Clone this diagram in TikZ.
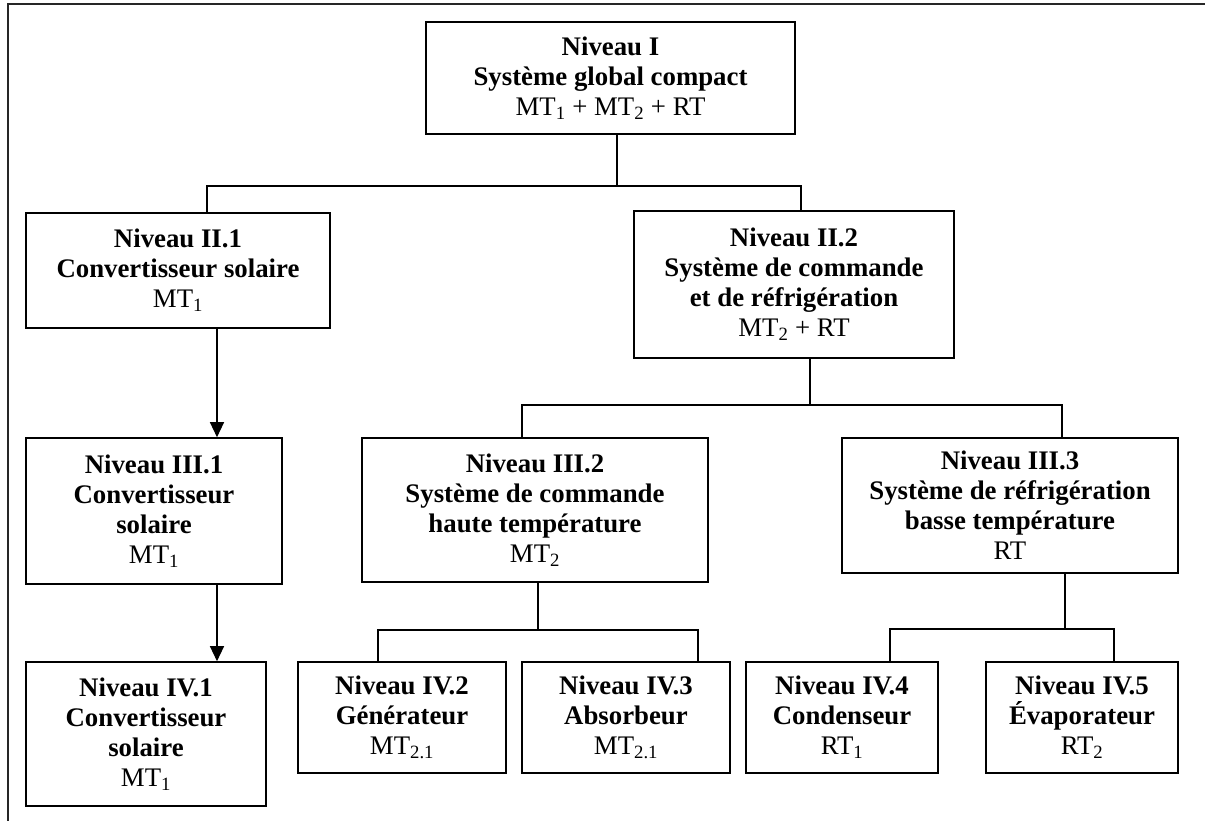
\documentclass[tikz,border=0pt]{standalone}
\usepackage{fontspec}
\setmainfont{Liberation Serif}
\usetikzlibrary{arrows.meta}
\newcommand{\sbx}[1]{\textsubscript{#1}}
\begin{document}
\begin{tikzpicture}[x=1pt,y=-1pt,
  box/.style={draw, line width=1.6pt, inner sep=0pt, align=center,
    font=\fontsize{26.8}{30}\selectfont},
  conn/.style={line width=1.3pt},
  arr/.style={conn, -{Triangle[width=14pt,length=15pt]}},
  frame/.style={line width=1.8pt, black!85}]
\useasboundingbox (0,0) rectangle (1205,821);
% outer frame (only top and left edges visible)
\coordinate (fTL) at (8,4.3);
\coordinate (fTR) at (1205,4.3);
\coordinate (fBL) at (8,821);
\draw[frame] (fTR) -- (fTL) -- (fBL);

% level I
\node[box, minimum width=369pt, minimum height=112pt] (I) at (610.5,78)
  {\textbf{Niveau I}\\\textbf{Système global compact}\\MT\sbx{1} + MT\sbx{2} + RT};
% level II
\node[box, minimum width=304pt, minimum height=115pt] (II1) at (178,270.5)
  {\textbf{Niveau II.1}\\\textbf{Convertisseur solaire}\\MT\sbx{1}};
\node[box, minimum width=320pt, minimum height=147pt] (II2) at (794,284.5)
  {\textbf{Niveau II.2}\\\textbf{Système de commande}\\\textbf{et de réfrigération}\\MT\sbx{2} + RT};
% level III
\node[box, minimum width=256pt, minimum height=146pt] (III1) at (154,511)
  {\textbf{Niveau III.1}\\\textbf{Convertisseur}\\\textbf{solaire}\\MT\sbx{1}};
\node[box, minimum width=346pt, minimum height=144pt] (III2) at (535,510)
  {\textbf{Niveau III.2}\\\textbf{Système de commande}\\\textbf{haute température}\\MT\sbx{2}};
\node[box, minimum width=336pt, minimum height=135pt] (III3) at (1010,505.5)
  {\textbf{Niveau III.3}\\\textbf{Système de réfrigération}\\\textbf{basse température}\\RT};
% level IV
\node[box, minimum width=240pt, minimum height=144pt] (IV1) at (146,734)
  {\textbf{Niveau IV.1}\\\textbf{Convertisseur}\\\textbf{solaire}\\MT\sbx{1}};
\node[box, minimum width=208pt, minimum height=111pt] (IV2) at (402,717.5)
  {\textbf{Niveau IV.2}\\\textbf{Générateur}\\MT\sbx{2.1}};
\node[box, minimum width=208pt, minimum height=111pt] (IV3) at (626,717.5)
  {\textbf{Niveau IV.3}\\\textbf{Absorbeur}\\MT\sbx{2.1}};
\node[box, minimum width=192pt, minimum height=111pt] (IV4) at (842,717.5)
  {\textbf{Niveau IV.4}\\\textbf{Condenseur}\\RT\sbx{1}};
\node[box, minimum width=192pt, minimum height=111pt] (IV5) at (1082,717.5)
  {\textbf{Niveau IV.5}\\\textbf{Évaporateur}\\RT\sbx{2}};

% junction coordinates
\coordinate (j1) at (617,186);
\coordinate (h1L) at (207,186);
\coordinate (h1R) at (801,186);
\coordinate (j2) at (810,405);
\coordinate (h2L) at (522,405);
\coordinate (h2R) at (1062,405);
\coordinate (j3) at (538,630);
\coordinate (h3L) at (378,630);
\coordinate (h3R) at (698,630);
\coordinate (j4) at (1065,629);
\coordinate (h4L) at (890,629);
\coordinate (h4R) at (1114,629);
\coordinate (ax) at (217,0);

% connectors
\draw[conn] (I.south -| j1) -- (j1);
\draw[conn] (II1.north -| h1L) -- (h1L) -- (h1R) -- (II2.north -| h1R);
\draw[conn] (II2.south -| j2) -- (j2);
\draw[conn] (III2.north -| h2L) -- (h2L) -- (h2R) -- (III3.north -| h2R);
\draw[conn] (III2.south -| j3) -- (j3);
\draw[conn] (IV2.north -| h3L) -- (h3L) -- (h3R) -- (IV3.north -| h3R);
\draw[conn] (III3.south -| j4) -- (j4);
\draw[conn] (IV4.north -| h4L) -- (h4L) -- (h4R) -- (IV5.north -| h4R);
\draw[arr] (II1.south -| ax) -- (III1.north -| ax);
\draw[arr] (III1.south -| ax) -- (IV1.north -| ax);
\end{tikzpicture}
\end{document}
